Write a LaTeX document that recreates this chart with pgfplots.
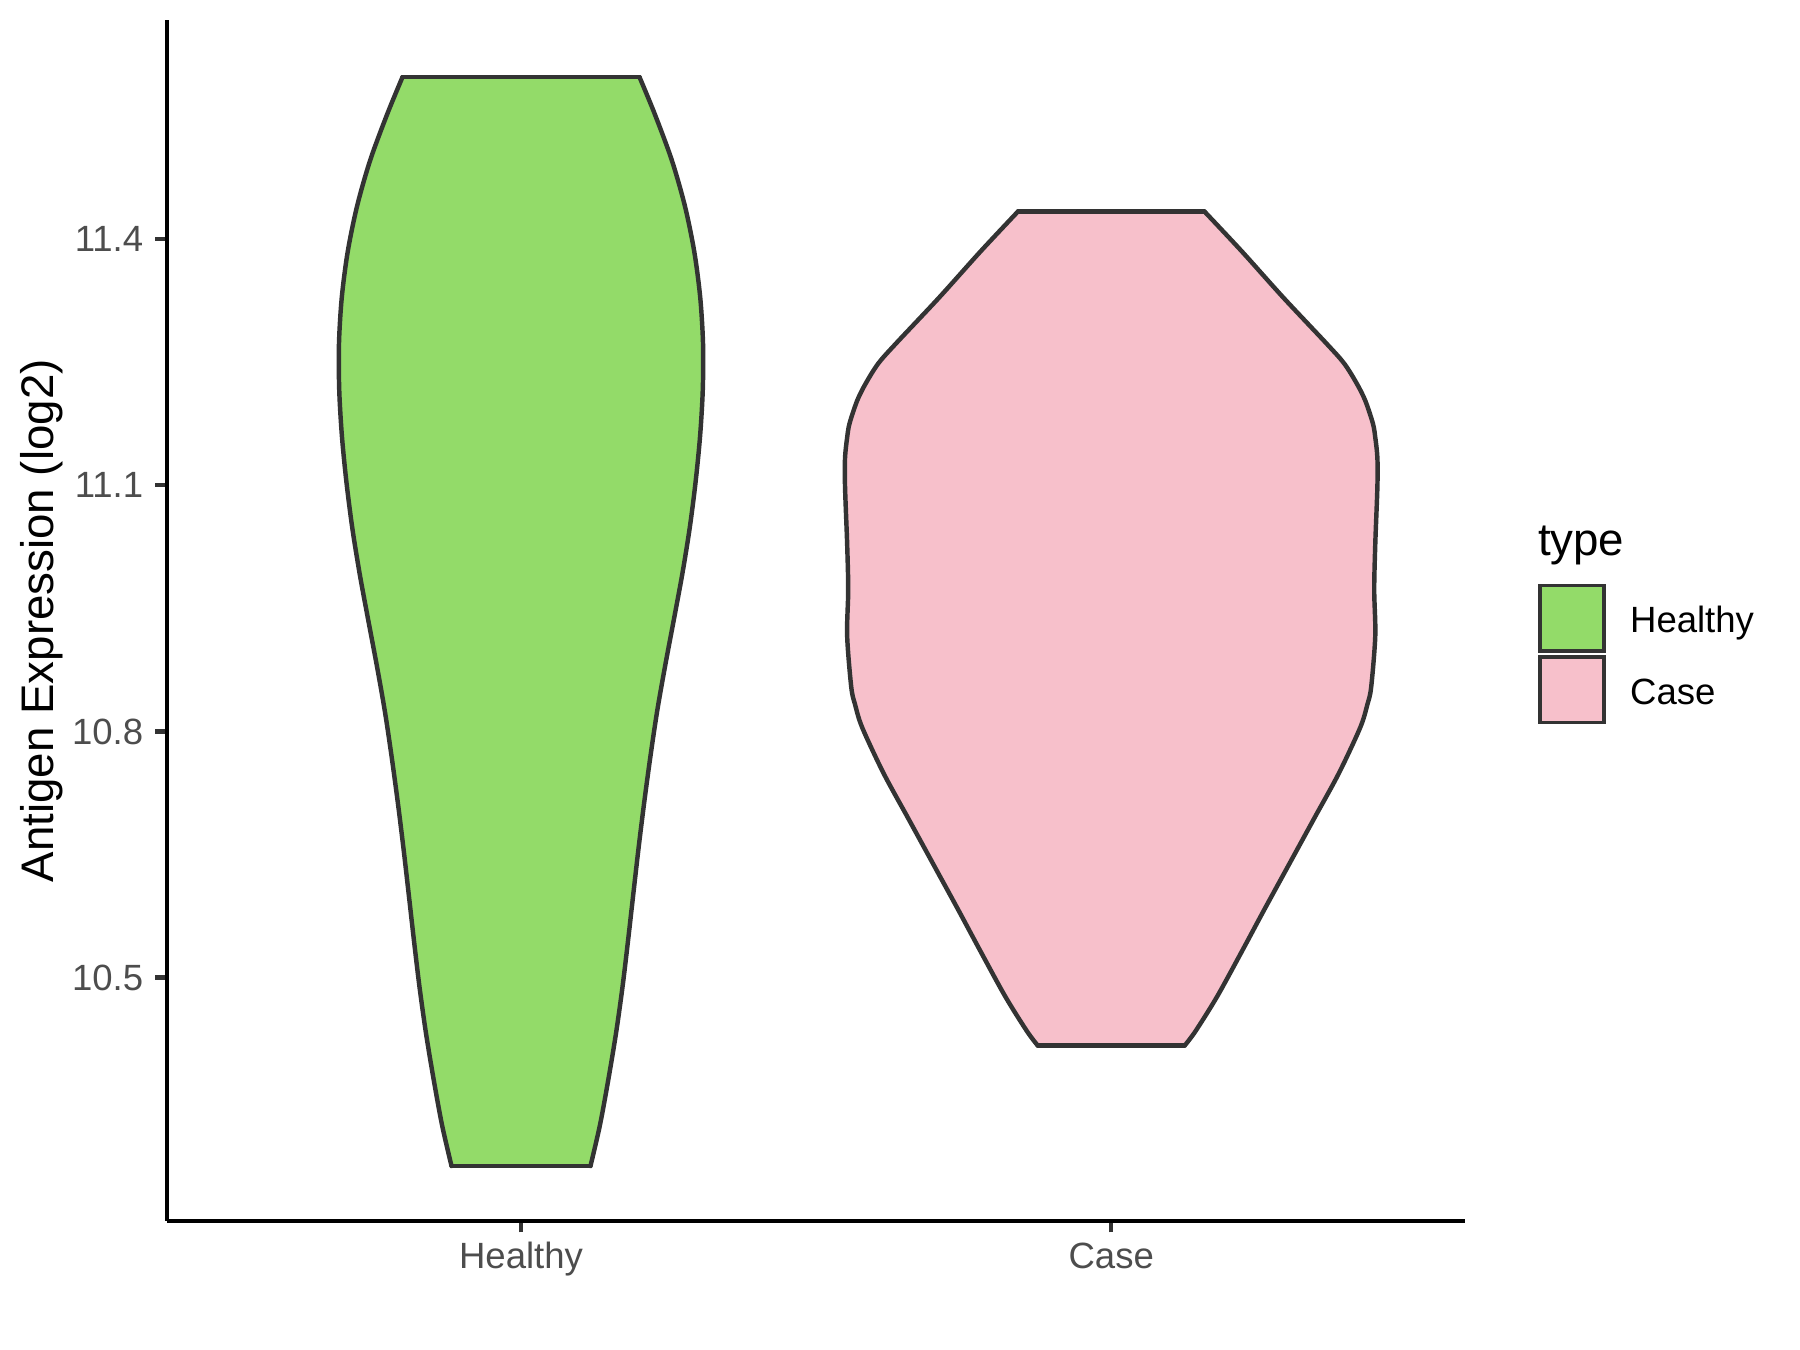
\documentclass[border=0pt]{standalone}
\usepackage{fontspec}
\setmainfont{Liberation Sans}
\usepackage{pgfplots}
\pgfplotsset{compat=1.18}
\definecolor{hgreen}{RGB}{147,219,105}
\definecolor{cpink}{RGB}{247,192,203}
\definecolor{outl}{RGB}{51,51,51}
\definecolor{ticklab}{RGB}{77,77,77}
\pgfplotsset{sqkey/.style={legend image code/.code={\draw[##1] (0pt,-6.75pt) rectangle (15.5pt,8.95pt);}}}
\begin{document}
\begin{tikzpicture}
\useasboundingbox (0,0) rectangle (433.62pt,325.215pt);
\begin{axis}[
  at={(40.2pt,31.1pt)}, anchor=south west,
  scale only axis, width=312.8pt, height=289.2pt,
  xmin=0.4, xmax=2.6, ymin=10.2035, ymax=11.6665,
  axis x line*=bottom, axis y line*=left,
  axis line style={black, line width=1.07pt, -},
  xtick={1,2}, xticklabels={Healthy,Case},
  ytick={10.5,10.8,11.1,11.4}, yticklabels={10.5,10.8,11.1,11.4},
  tick align=outside, major tick length=2.75pt,
  tick style={outl, line width=1.07pt},
  minor tick num=0,
  ticklabel style={font=\fontsize{8.8}{10}\selectfont, text=ticklab, inner sep=0pt},
  yticklabel style={anchor=east, xshift=-2.75pt},
  xticklabel style={anchor=base, yshift=-8.6pt},
  ylabel={Antigen Expression (log2)},
  ylabel style={at={(axis description cs:-0.087,0.5)}, anchor=base, font=\fontsize{11}{13}\selectfont, text=black},
  legend style={at={(1.0553,0.5315)}, anchor=north west, draw=none, fill=none, inner sep=0pt, row sep=0.7pt, column sep=5.8pt, font=\fontsize{8.8}{10}\selectfont, nodes={inner sep=0pt}},
  legend cell align=left,
  clip=false,
]
% Healthy violin fill
\addplot[fill=hgreen, draw=none, forget plot] coordinates {
(0.8823,10.2703) (0.8661,10.3207) (0.8518,10.3767) (0.8389,10.4327) (0.8280,10.4887) (0.8187,10.5447) (0.8099,10.6007) (0.8010,10.6567) (0.7914,10.7127) (0.7809,10.7687) (0.7693,10.8247) (0.7556,10.8807) (0.7409,10.9367) (0.7265,10.9927) (0.7140,11.0487) (0.7041,11.1046) (0.6965,11.1606) (0.6920,11.2166) (0.6916,11.2726) (0.6963,11.3286) (0.7064,11.3846) (0.7224,11.4406) (0.7447,11.4966) (0.7735,11.5526) (0.7992,11.5974)
(1.2008,11.5974) (1.2265,11.5526) (1.2553,11.4966) (1.2776,11.4406) (1.2936,11.3846) (1.3037,11.3286) (1.3084,11.2726) (1.3080,11.2166) (1.3035,11.1606) (1.2959,11.1046) (1.2860,11.0487) (1.2735,10.9927) (1.2591,10.9367) (1.2444,10.8807) (1.2307,10.8247) (1.2191,10.7687) (1.2086,10.7127) (1.1990,10.6567) (1.1901,10.6007) (1.1813,10.5447) (1.1720,10.4887) (1.1611,10.4327) (1.1482,10.3767) (1.1339,10.3207) (1.1177,10.2703)} -- cycle;
\addplot[draw=outl, line width=1.07pt, smooth, line cap=round, forget plot] coordinates {
(0.8823,10.2703) (0.8661,10.3207) (0.8518,10.3767) (0.8389,10.4327) (0.8280,10.4887) (0.8187,10.5447) (0.8099,10.6007) (0.8010,10.6567) (0.7914,10.7127) (0.7809,10.7687) (0.7693,10.8247) (0.7556,10.8807) (0.7409,10.9367) (0.7265,10.9927) (0.7140,11.0487) (0.7041,11.1046) (0.6965,11.1606) (0.6920,11.2166) (0.6916,11.2726) (0.6963,11.3286) (0.7064,11.3846) (0.7224,11.4406) (0.7447,11.4966) (0.7735,11.5526) (0.7992,11.5974)};
\addplot[draw=outl, line width=1.07pt, smooth, line cap=round, forget plot] coordinates {
(1.1177,10.2703) (1.1339,10.3207) (1.1482,10.3767) (1.1611,10.4327) (1.1720,10.4887) (1.1813,10.5447) (1.1901,10.6007) (1.1990,10.6567) (1.2086,10.7127) (1.2191,10.7687) (1.2307,10.8247) (1.2444,10.8807) (1.2591,10.9367) (1.2735,10.9927) (1.2860,11.0487) (1.2959,11.1046) (1.3035,11.1606) (1.3080,11.2166) (1.3084,11.2726) (1.3037,11.3286) (1.2936,11.3846) (1.2776,11.4406) (1.2553,11.4966) (1.2265,11.5526) (1.2008,11.5974)};
\addplot[draw=outl, line width=1.07pt, line cap=round, forget plot] coordinates {(0.7992,11.5974) (1.2008,11.5974)};
\addplot[draw=outl, line width=1.07pt, line cap=round, forget plot] coordinates {(0.8823,10.2703) (1.1177,10.2703)};
% Case violin fill
\addplot[fill=cpink, draw=none, forget plot] coordinates {
(1.8755,10.4172) (1.8573,10.4346) (1.8208,10.4766) (1.7783,10.5324) (1.7418,10.5813) (1.6993,10.6372) (1.6568,10.6931) (1.6143,10.7490) (1.5780,10.8049) (1.5660,10.8328) (1.5596,10.8537) (1.5526,10.9166) (1.5544,10.9726) (1.5526,11.0285) (1.5490,11.0983) (1.5490,11.1332) (1.5525,11.1577) (1.5566,11.1752) (1.5695,11.2030) (1.5840,11.2240) (1.6054,11.2485) (1.6355,11.2729) (1.7084,11.3287) (1.7783,11.3847) (1.8420,11.4336)
(2.1580,11.4336) (2.2217,11.3847) (2.2916,11.3287) (2.3645,11.2729) (2.3946,11.2485) (2.4160,11.2240) (2.4305,11.2030) (2.4434,11.1752) (2.4475,11.1577) (2.4510,11.1332) (2.4510,11.0983) (2.4474,11.0285) (2.4456,10.9726) (2.4474,10.9166) (2.4404,10.8537) (2.4340,10.8328) (2.4220,10.8049) (2.3857,10.7490) (2.3432,10.6931) (2.3007,10.6372) (2.2582,10.5813) (2.2217,10.5324) (2.1792,10.4766) (2.1427,10.4346) (2.1245,10.4172)} -- cycle;
\addplot[draw=outl, line width=1.07pt, smooth, line cap=round, forget plot] coordinates {
(1.8755,10.4172) (1.8573,10.4346) (1.8208,10.4766) (1.7783,10.5324) (1.7418,10.5813) (1.6993,10.6372) (1.6568,10.6931) (1.6143,10.7490) (1.5780,10.8049) (1.5660,10.8328) (1.5596,10.8537) (1.5526,10.9166) (1.5544,10.9726) (1.5526,11.0285) (1.5490,11.0983) (1.5490,11.1332) (1.5525,11.1577) (1.5566,11.1752) (1.5695,11.2030) (1.5840,11.2240) (1.6054,11.2485) (1.6355,11.2729) (1.7084,11.3287) (1.7783,11.3847) (1.8420,11.4336)};
\addplot[draw=outl, line width=1.07pt, smooth, line cap=round, forget plot] coordinates {
(2.1245,10.4172) (2.1427,10.4346) (2.1792,10.4766) (2.2217,10.5324) (2.2582,10.5813) (2.3007,10.6372) (2.3432,10.6931) (2.3857,10.7490) (2.4220,10.8049) (2.4340,10.8328) (2.4404,10.8537) (2.4474,10.9166) (2.4456,10.9726) (2.4474,11.0285) (2.4510,11.0983) (2.4510,11.1332) (2.4475,11.1577) (2.4434,11.1752) (2.4305,11.2030) (2.4160,11.2240) (2.3946,11.2485) (2.3645,11.2729) (2.2916,11.3287) (2.2217,11.3847) (2.1580,11.4336)};
\addplot[draw=outl, line width=1.07pt, line cap=round, forget plot] coordinates {(1.8420,11.4336) (2.1580,11.4336)};
\addplot[draw=outl, line width=1.07pt, line cap=round, forget plot] coordinates {(1.8755,10.4172) (2.1245,10.4172)};
% legend
\addlegendimage{sqkey, fill=hgreen, draw=outl, line width=0.9pt}
\addlegendentry{Healthy}
\addlegendimage{sqkey, fill=cpink, draw=outl, line width=0.9pt}
\addlegendentry{Case}
\end{axis}
\node[anchor=base west, inner sep=0pt, font=\fontsize{11}{13}\selectfont] at (370.3pt,191.5pt) {type};
\end{tikzpicture}
\end{document}
